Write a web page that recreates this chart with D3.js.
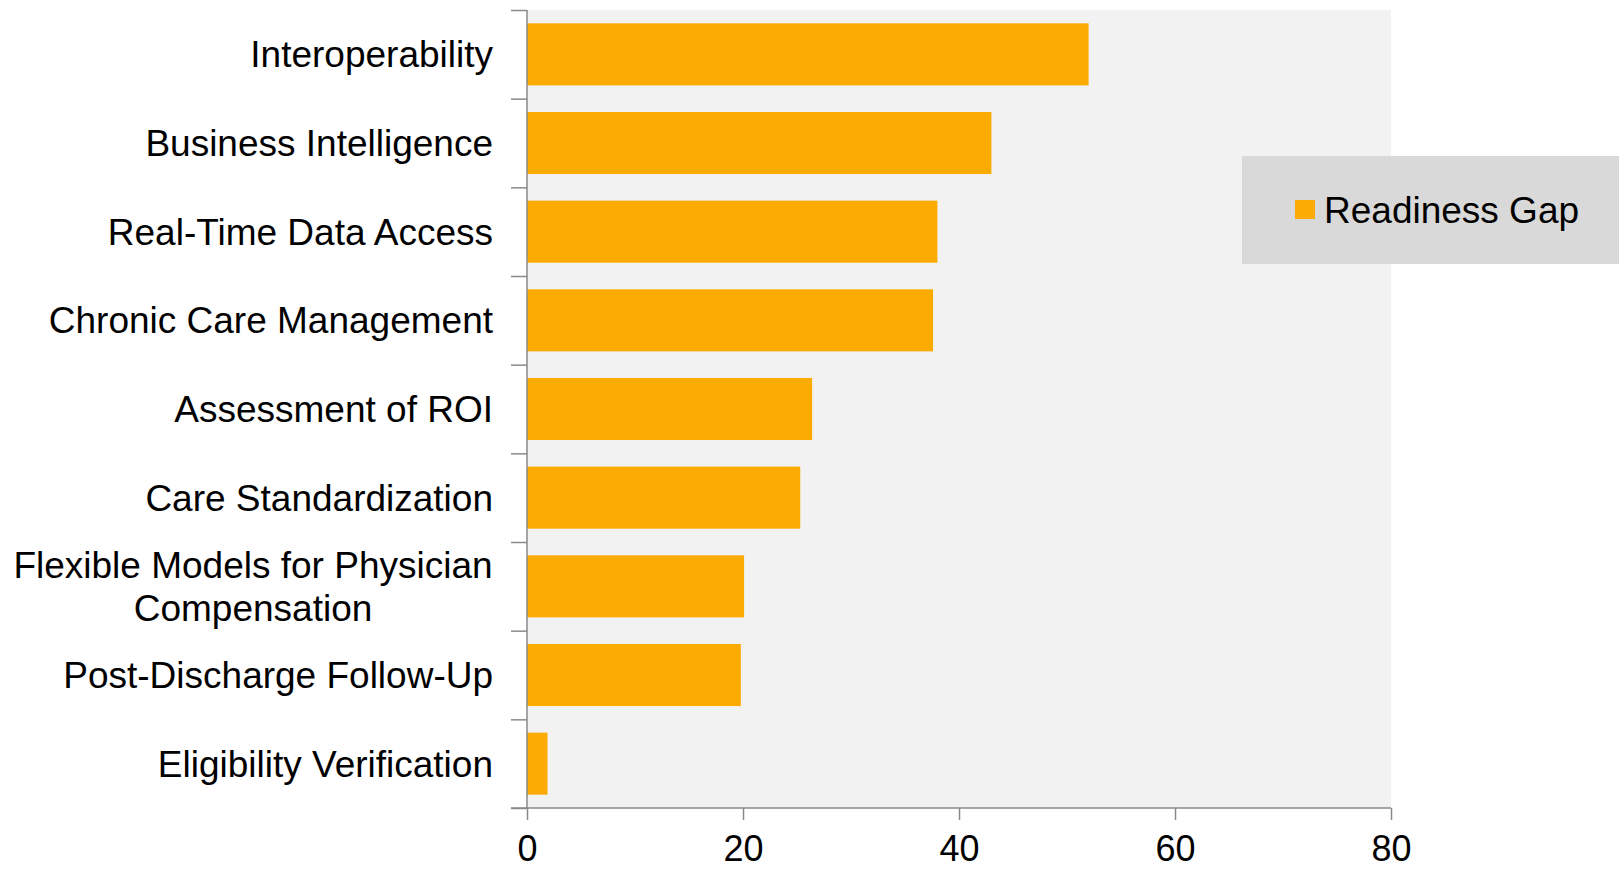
<!DOCTYPE html>
<html><head><meta charset="utf-8">
<script src="https://cdn.jsdelivr.net/npm/d3@7"></script>
<style>
html,body{margin:0;padding:0;background:#fff;}
svg{display:block;font-family:"Liberation Sans",Arial,sans-serif;}
</style></head>
<body>
<svg id="chart" width="1619" height="869"></svg>
<script>
const categories = [
  ["Interoperability"],
  ["Business Intelligence"],
  ["Real-Time Data Access"],
  ["Chronic Care Management"],
  ["Assessment of ROI"],
  ["Care Standardization"],
  ["Flexible Models for Physician", "Compensation"],
  ["Post-Discharge Follow-Up"],
  ["Eligibility Verification"]
];
const values = [52, 43, 38, 37.6, 26.4, 25.3, 20.1, 19.8, 1.9];
const xTicks = [0, 20, 40, 60, 80];
const seriesName = "Readiness Gap";

(function () {
const svg = d3.select("#chart");
const pL = 527, pR = 1391, pT = 10, pB = 808;
const axisColor = "#8a8a8a";
const barColor = "#fcab03";

const keys = categories.map(c => c.join(" "));
const x = d3.scaleLinear().domain([0, 80]).range([pL, pR]);
const y = d3.scaleBand().domain(keys).range([pT, pB]).paddingInner(0.3).paddingOuter(0.15);
const yb = d3.scaleLinear().domain([0, keys.length]).range([pT, pB]);

// plot background
svg.append("rect").attr("x", pL).attr("y", pT).attr("width", pR - pL).attr("height", pB - pT).attr("fill", "#f2f2f2");

// bars
svg.append("g").selectAll("rect").data(values).join("rect")
  .attr("x", x(0))
  .attr("y", (d, i) => y(keys[i]))
  .attr("width", d => x(d) - x(0))
  .attr("height", y.bandwidth())
  .attr("fill", barColor);

// y axis with boundary ticks
const yAxis = svg.append("g").attr("transform", `translate(${pL},0)`)
  .call(d3.axisLeft(yb).tickValues(d3.range(0, keys.length + 1)).tickSize(16).tickFormat(""));
yAxis.select(".domain").attr("stroke", axisColor).attr("stroke-width", 1.5).attr("d", `M0,${pT}V${pB}`);
yAxis.selectAll(".tick line").attr("stroke", axisColor).attr("stroke-width", 1.5);

// category labels
const labels = svg.append("g");
categories.forEach((lines, i) => {
  const cy = y(keys[i]) + y.bandwidth() / 2;
  const lh = 43;
  const t = labels.append("text")
    .attr("font-size", 37)
    .attr("fill", "#000");
  lines.forEach((ln, j) => {
    t.append("tspan")
      .attr("x", lines.length > 1 ? 253 : 493)
      .attr("text-anchor", lines.length > 1 ? "middle" : "end")
      .attr("y", cy + (j - (lines.length - 1) / 2) * lh)
      .attr("dy", "0.35em")
      .text(ln);
  });
});

// x axis
const xAxis = svg.append("g").attr("transform", `translate(0,${pB})`)
  .call(d3.axisBottom(x).tickValues(xTicks).tickSize(12).tickPadding(0));
xAxis.select(".domain").attr("stroke", axisColor).attr("stroke-width", 1.5).attr("d", `M${pL - 16},0H${pR}`);
xAxis.selectAll(".tick line").attr("stroke", axisColor).attr("stroke-width", 1.5);
xAxis.selectAll(".tick text").attr("font-size", 36).attr("fill", "#000")
  .attr("font-family", "'Liberation Sans',Arial,sans-serif")
  .attr("y", 53).attr("dy", 0);

// legend
const lg = svg.append("g");
lg.append("rect").attr("x", 1242).attr("y", 156).attr("width", 1619 - 1242).attr("height", 108).attr("fill", "#d9d9d9");
lg.append("rect").attr("x", 1295).attr("y", 200).attr("width", 20).attr("height", 19).attr("fill", barColor);
lg.append("text").attr("x", 1324).attr("y", 223).attr("font-size", 37).attr("fill", "#000").text(seriesName);
})();
</script>
</body></html>
